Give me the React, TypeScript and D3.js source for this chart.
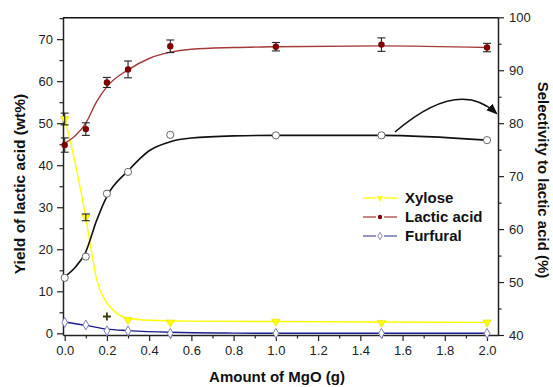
import React, { useRef, useEffect } from "react";
import * as d3 from "d3";

// measured points
const amounts = [0, 0.1, 0.2, 0.3, 0.5, 1.0, 1.5, 2.0];
const lacticYield = [44.8, 48.6, 59.7, 62.8, 68.3, 68.2, 68.7, 68.0];
const lacticErr = [1.7, 1.5, 1.2, 2.0, 1.5, 1.0, 1.6, 1.0];
const selectivity = [50.8, 54.8, 66.7, 70.8, 77.8, 77.7, 77.7, 76.8];
const xyloseYield = [51.0, 27.6, 4.0, 3.2, 2.6, 2.8, 2.5, 2.6];
const xyloseErr = [1.4, 0.8, 0.6, 0, 0, 0, 0, 0];
const furfuralYield = [2.6, 2.0, 0.6, 0.6, 0.0, 0.0, 0.0, 0.0];

// fitted curves
const lacticFitX = [0, 0.05, 0.1, 0.15, 0.2, 0.3, 0.4, 0.5, 0.6, 0.8, 1.0, 1.5, 2.0];
const lacticFitY = [45.2, 47.0, 50.0, 55.0, 58.7, 62.7, 65.4, 66.9, 67.6, 68.0, 68.2, 68.4, 68.0];
const selectFitX = [0, 0.05, 0.1, 0.15, 0.2, 0.3, 0.4, 0.5, 0.6, 0.8, 1.0, 1.5, 2.0];
const selectFitY = [51.0, 52.8, 55.7, 61.5, 66.2, 71.0, 74.8, 76.5, 77.2, 77.6, 77.7, 77.7, 76.8];
const xyloseFitX = [0, 0.05, 0.08, 0.1, 0.125, 0.152, 0.19, 0.23, 0.29, 0.4, 0.6, 1.0, 1.5, 2.0];
const xyloseFitY = [51.3, 40.5, 33.0, 27.5, 20.0, 12.7, 8.0, 5.5, 3.7, 3.1, 2.9, 2.8, 2.7, 2.6];
const furfuralFitX = [0, 0.1, 0.2, 0.3, 0.5, 0.8, 1.0, 1.5, 2.0];
const furfuralFitY = [2.7, 1.9, 1.0, 0.65, 0.25, 0.05, 0.0, 0.0, 0.0];

const xTicks = [0, 0.2, 0.4, 0.6, 0.8, 1.0, 1.2, 1.4, 1.6, 1.8, 2.0];
const leftTicks = [0, 10, 20, 30, 40, 50, 60, 70];
const rightTicks = [40, 50, 60, 70, 80, 90, 100];

const legendNames = ["Xylose", "Lactic acid", "Furfural"];

const App = () => {
  const svgRef = useRef<SVGSVGElement>(null);

  const width = 553;
  const height = 387;
  const left = 63;
  const right = 498;
  const top = 17.3;
  const bottom = 335;
  const font = "'Liberation Sans', Arial, sans-serif";

  useEffect(() => {
    const svg = d3.select(svgRef.current);
    svg.selectAll("*").remove();

    const x = d3.scaleLinear().domain([-0.008, 2.052]).range([left, right]);
    const y = d3.scaleLinear().domain([-0.4, 75.2]).range([bottom, top]);
    const y2 = d3.scaleLinear().domain([40, 100]).range([bottom, top]);

    const xyl = "#ffff00";
    const lac = "#800000";
    const fur = "#1c1c8c";

    // frame: top line
    svg.append("line")
      .attr("x1", left).attr("x2", right).attr("y1", top + 0.5).attr("y2", top + 0.5)
      .attr("stroke", "#111").attr("stroke-width", 1.5);

    // bottom axis
    const xAxis = svg.append("g")
      .attr("transform", `translate(0,${bottom})`)
      .call(d3.axisBottom(x).tickValues(xTicks).tickSize(6).tickPadding(5)
        .tickFormat(d3.format(".1f")).tickSizeOuter(0));
    svg.append("g")
      .attr("transform", `translate(0,${bottom})`)
      .call(d3.axisBottom(x).tickValues(d3.range(1, 20, 2).map(d => d / 10)).tickSize(3.5)
        .tickFormat(() => "").tickSizeOuter(0))
      .call(g => g.select(".domain").remove());

    // left axis
    const yAxis = svg.append("g")
      .attr("transform", `translate(${left},0)`)
      .call(d3.axisLeft(y).tickValues(leftTicks).tickSize(6).tickPadding(4).tickSizeOuter(0));
    svg.append("g")
      .attr("transform", `translate(${left},0)`)
      .call(d3.axisLeft(y).tickValues([5, 15, 25, 35, 45, 55, 65, 75]).tickSize(3.5)
        .tickFormat(() => "").tickSizeOuter(0))
      .call(g => g.select(".domain").remove());

    // right axis
    const y2Axis = svg.append("g")
      .attr("transform", `translate(${right},0)`)
      .call(d3.axisRight(y2).tickValues(rightTicks).tickSize(6).tickPadding(5).tickSizeOuter(0));
    svg.append("g")
      .attr("transform", `translate(${right},0)`)
      .call(d3.axisRight(y2).tickValues([45, 55, 65, 75, 85, 95]).tickSize(3.5)
        .tickFormat(() => "").tickSizeOuter(0))
      .call(g => g.select(".domain").remove());

    [xAxis, yAxis, y2Axis].forEach(g => {
      g.select(".domain").attr("stroke", "#222").attr("stroke-width", 1.5);
      g.selectAll(".tick text").attr("font-family", font).attr("font-size", 13).attr("fill", "#222");
    });
    svg.selectAll(".tick line").attr("stroke", "#222").attr("stroke-width", 1.2);

    // axis titles
    svg.append("text")
      .attr("x", 277).attr("y", 382)
      .attr("text-anchor", "middle")
      .attr("font-family", font).attr("font-weight", "bold").attr("font-size", 15)
      .attr("fill", "#111")
      .text("Amount of MgO (g)");
    svg.append("text")
      .attr("transform", "translate(25,184) rotate(-90)")
      .attr("text-anchor", "middle")
      .attr("font-family", font).attr("font-weight", "bold").attr("font-size", 15.5)
      .attr("fill", "#111")
      .text("Yield of lactic acid (wt%)");
    svg.append("text")
      .attr("transform", "translate(538,180) rotate(90)")
      .attr("text-anchor", "middle")
      .attr("font-family", font).attr("font-weight", "bold").attr("font-size", 15)
      .attr("fill", "#111")
      .text("Selectivity to lactic acid (%)");

    // fitted curves
    const fit = (xs: number[], ys: number[], sc: d3.ScaleLinear<number, number>) =>
      d3.line<number>()
        .x((_, i) => x(xs[i]))
        .y(d => sc(d))
        .curve(d3.curveMonotoneX)(ys);

    svg.append("path").attr("d", fit(xyloseFitX, xyloseFitY, y))
      .attr("fill", "none").attr("stroke", xyl).attr("stroke-width", 1.4);
    svg.append("path").attr("d", fit(furfuralFitX, furfuralFitY, y))
      .attr("fill", "none").attr("stroke", fur).attr("stroke-width", 1.4);
    svg.append("path").attr("d", fit(lacticFitX, lacticFitY, y))
      .attr("fill", "none").attr("stroke", "#a33a3a").attr("stroke-width", 1.4);
    svg.append("path").attr("d", fit(selectFitX, selectFitY, y2))
      .attr("fill", "none").attr("stroke", "#111").attr("stroke-width", 1.6);

    const tri = d3.symbol().type(d3.symbolTriangle).size(30);
    const dia = d3.symbol().type(d3.symbolDiamond).size(28);

    // error bars
    const errBar = (xs: number[], vals: number[], errs: number[], color: string) => {
      const g = svg.append("g").attr("stroke", color).attr("stroke-width", 1.1);
      xs.forEach((xv, i) => {
        if (!errs[i]) return;
        const cx = x(xv);
        const y1 = y(vals[i] + errs[i]);
        const y0 = y(vals[i] - errs[i]);
        g.append("line").attr("x1", cx).attr("x2", cx).attr("y1", y1).attr("y2", y0);
        g.append("line").attr("x1", cx - 4).attr("x2", cx + 4).attr("y1", y1).attr("y2", y1);
        g.append("line").attr("x1", cx - 4).attr("x2", cx + 4).attr("y1", y0).attr("y2", y0);
      });
    };

    // furfural markers
    svg.append("g").selectAll("path").data(furfuralYield).join("path")
      .attr("d", dia)
      .attr("transform", (d, i) => `translate(${x(amounts[i])},${y(d)})`)
      .attr("fill", "#fff").attr("stroke", "#7b7bc4").attr("stroke-width", 1);

    // xylose markers (the 0.2 g point is hidden under its dark cross)
    svg.append("g").selectAll("path").data(xyloseYield).join("path")
      .attr("d", tri)
      .attr("transform", (d, i) => `translate(${x(amounts[i])},${y(d)}) rotate(180)`)
      .attr("fill", xyl).attr("stroke", "#e6d800").attr("stroke-width", 0.6)
      .attr("opacity", (_, i) => (i === 2 ? 0 : 1));
    errBar(amounts.slice(0, 2), xyloseYield, xyloseErr, "#222");
    const cx2 = x(amounts[2]);
    const cy2 = y(xyloseYield[2]);
    svg.append("path")
      .attr("d", `M${cx2 - 4},${cy2}H${cx2 + 4}M${cx2},${cy2 - 4}V${cy2 + 4}`)
      .attr("stroke", "#3a3a10").attr("stroke-width", 1.8);

    // selectivity markers
    svg.append("g").selectAll("circle").data(selectivity).join("circle")
      .attr("cx", (_, i) => x(amounts[i]))
      .attr("cy", d => y2(d))
      .attr("r", 3.6)
      .attr("fill", "#fff").attr("stroke", "#666").attr("stroke-width", 1);

    // lactic acid markers
    errBar(amounts, lacticYield, lacticErr, "#222");
    svg.append("g").selectAll("circle").data(lacticYield).join("circle")
      .attr("cx", (_, i) => x(amounts[i]))
      .attr("cy", d => y(d))
      .attr("r", 3.2)
      .attr("fill", lac);

    // curved arrow pointing to the right axis
    svg.append("defs").append("marker")
      .attr("id", "head").attr("viewBox", "0 0 10 10")
      .attr("refX", 8).attr("refY", 5)
      .attr("markerWidth", 7).attr("markerHeight", 7)
      .attr("orient", "auto")
      .append("path").attr("d", "M0,1 L10,5 L0,9 Z").attr("fill", "#111");
    svg.append("path")
      .attr("d", "M395,132 Q458,78 496,113")
      .attr("fill", "none").attr("stroke", "#111").attr("stroke-width", 1.6)
      .attr("marker-end", "url(#head)");

    // legend
    const legend = svg.append("g").attr("transform", "translate(363,198)");
    const colors = [xyl, "#b04040", "#5b5bb0"];
    legendNames.forEach((name, i) => {
      const row = legend.append("g").attr("transform", `translate(0,${i * 19})`);
      row.append("line").attr("x1", 0).attr("x2", 13).attr("stroke", colors[i]).attr("stroke-width", 1.3);
      row.append("line").attr("x1", 21).attr("x2", 34).attr("stroke", colors[i]).attr("stroke-width", 1.3);
      if (i === 0) {
        row.append("path").attr("d", d3.symbol().type(d3.symbolTriangle).size(18))
          .attr("transform", "translate(17,0) rotate(180)").attr("fill", xyl);
      } else if (i === 1) {
        row.append("circle").attr("cx", 17).attr("r", 2.2).attr("fill", lac);
      } else {
        row.append("path").attr("d", d3.symbol().type(d3.symbolDiamond).size(16))
          .attr("transform", "translate(17,0)").attr("fill", "#fff").attr("stroke", "#8a8ac8");
      }
      row.append("text")
        .attr("x", 42).attr("dy", "0.36em")
        .attr("font-family", font).attr("font-weight", "bold").attr("font-size", 15)
        .attr("fill", "#111")
        .text(name);
    });
  }, []);

  return (
    <svg ref={svgRef} width={width} height={height}
      style={{ position: "absolute", left: 0, top: 0, background: "#fff" }} />
  );
};

export default App;
